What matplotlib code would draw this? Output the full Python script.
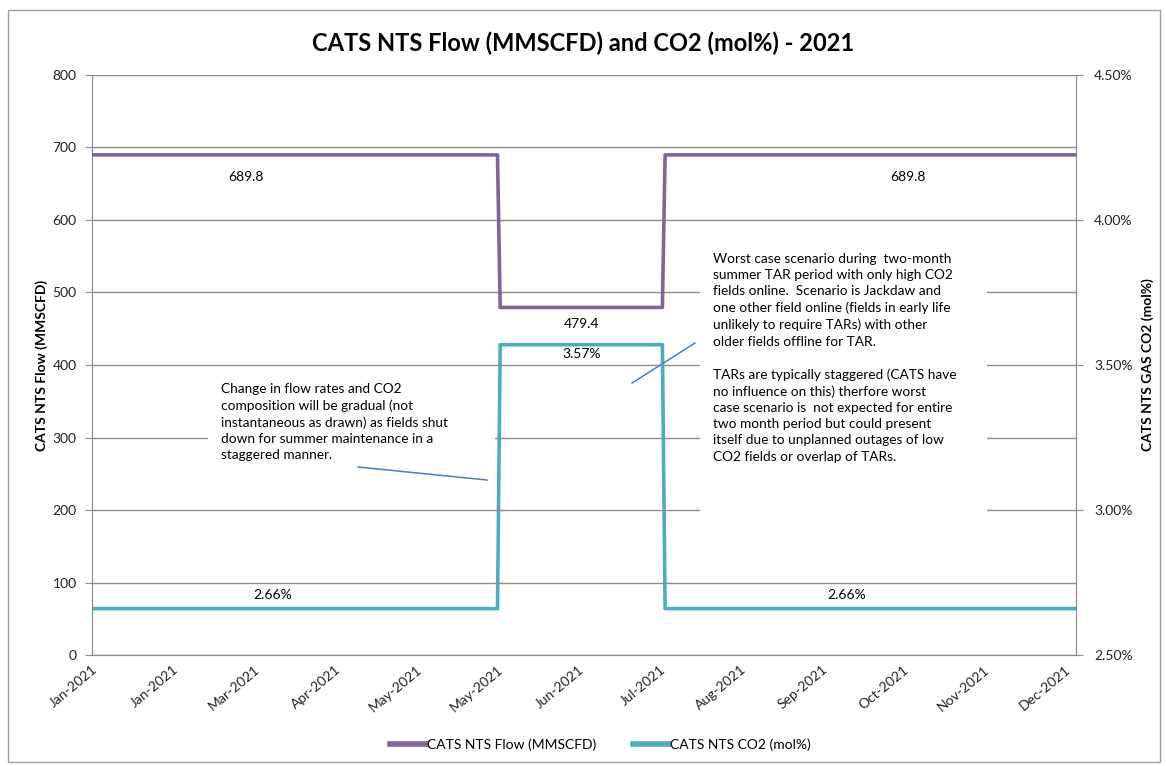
import numpy as np
import pandas as pd
import matplotlib
matplotlib.use('Agg')
from matplotlib import pyplot as plt
import matplotlib.dates as mdates
from matplotlib.ticker import FuncFormatter, MultipleLocator
from matplotlib.lines import Line2D
from matplotlib.patches import Rectangle

plt.rcParams['font.family'] = ['Lato', 'DejaVu Sans']

# data
dates = pd.to_datetime(['2021-01-01', '2021-05-31', '2021-06-01',
                        '2021-07-31', '2021-08-01', '2021-12-31'])
flow = [689.8, 689.8, 479.4, 479.4, 689.8, 689.8]
co2 = [2.66, 2.66, 3.57, 3.57, 2.66, 2.66]

tick_dates = pd.date_range('2021-01-01', periods=13, freq='30D')

# where the data labels sit
flow_label_dates = pd.to_datetime(['2021-02-27', '2021-07-01', '2021-10-30'])
flow_label_vals = [689.8, 479.4, 689.8]
co2_label_dates = pd.to_datetime(['2021-03-09', '2021-07-01', '2021-10-07'])
co2_label_vals = [2.66, 3.57, 2.66]

purple = '#8064A2'
teal = '#4BACC6'
grid_c = '#8c8c8c'

fig = plt.figure(figsize=(11.66, 7.66), dpi=100)
ax = fig.add_axes([0.0789, 0.1449, 0.9228 - 0.0789, 0.9021 - 0.1449])
ax2 = ax.twinx()
ax.set_zorder(3)
ax.patch.set_visible(False)

# outer chart border
fig.add_artist(Rectangle((8 / 1166, 4 / 766), 1152 / 1166, 752 / 766, transform=fig.transFigure,
                         fill=False, edgecolor='#a0a0a0', lw=1))

ax.plot(dates, flow, color=purple, lw=2.6, label='CATS NTS Flow (MMSCFD)', zorder=6)
ax2.plot(dates, co2, color=teal, lw=2.6, label='CATS NTS CO2 (mol%)', zorder=6)

ax.set_xlim(pd.Timestamp('2021-01-01'), pd.Timestamp('2021-12-31'))
ax.set_ylim(0, 800)
ax2.set_ylim(2.5, 4.5)
ax.yaxis.set_major_locator(MultipleLocator(100))
ax2.yaxis.set_major_locator(MultipleLocator(0.5))
ax2.yaxis.set_major_formatter(FuncFormatter(lambda v, p: f'{v:.2f}%'))

ax.set_xticks(tick_dates)
ax.xaxis.set_major_formatter(mdates.DateFormatter('%b-%Y'))
plt.setp(ax.get_xticklabels(), rotation=40, ha='right', rotation_mode='anchor')

ax.grid(axis='y', color=grid_c, lw=1)
ax.set_axisbelow(True)
for a in (ax, ax2):
    for s in a.spines.values():
        s.set_color(grid_c)
    a.spines['top'].set_visible(False)
ax.tick_params(axis='x', length=0, pad=6, labelsize=10, colors='#222222')
ax.tick_params(axis='y', length=5, color=grid_c, labelsize=10, labelcolor='#222222', pad=6)
ax2.tick_params(axis='y', length=5, color=grid_c, labelsize=10, labelcolor='#222222', pad=8)

ax.set_ylabel('CATS NTS Flow (MMSCFD)', fontsize=10, fontweight='bold', labelpad=3)
ax2.set_ylabel('CATS NTS GAS CO2 (mol%)', fontsize=10, fontweight='bold', labelpad=6)

fig.text(0.5, 0.943, 'CATS NTS Flow (MMSCFD) and CO2 (mol%) - 2021', ha='center', va='center',
         fontsize=17, fontweight='bold')

# data labels
for d, v in zip(flow_label_dates, flow_label_vals):
    ax.annotate(f'{v:.1f}', xy=(d, v), xytext=(0, -22 if v > 600 else -17), textcoords='offset pixels',
                ha='center', va='center', fontsize=10)
for d, v in zip(co2_label_dates, co2_label_vals):
    ax2.annotate(f'{v:.2f}%', xy=(d, v), xytext=(0, 14 if v < 3 else -9), textcoords='offset pixels',
                 ha='center', va='center', fontsize=10)

# notes
note1 = ('Change in flow rates and CO2\ncomposition will be gradual (not\n'
         'instantaneous as drawn) as fields shut\ndown for summer maintenance in a\nstaggered manner.')
note2 = ('Worst case scenario during  two-month\nsummer TAR period with only high CO2\n'
         'fields online.  Scenario is Jackdaw and\none other field online (fields in early life\n'
         'unlikely to require TARs) with other\nolder fields offline for TAR.\n\n'
         'TARs are typically staggered (CATS have\nno influence on this) therfore worst\n'
         'case scenario is  not expected for entire\ntwo month period but could present\n'
         'itself due to unplanned outages of low\nCO2 fields or overlap of TARs.')

# white note boxes hide the gridlines underneath
ax.add_patch(Rectangle((208 / 1166, 1 - 500 / 766), 287 / 1166, 128 / 766, transform=fig.transFigure,
                       facecolor='white', edgecolor='none', zorder=2))
ax.add_patch(Rectangle((700 / 1166, 1 - 520 / 766), 287 / 1166, 275 / 766, transform=fig.transFigure,
                       facecolor='white', edgecolor='none', zorder=2))
fig.text(221 / 1166, 1 - 383 / 766, note1, ha='left', va='top', fontsize=9.8, linespacing=1.42, zorder=4)
fig.text(713 / 1166, 1 - 253 / 766, note2, ha='left', va='top', fontsize=9.8, linespacing=1.42, zorder=4)

fig.add_artist(Line2D([358 / 1166, 487 / 1166], [1 - 467 / 766, 1 - 480 / 766], transform=fig.transFigure,
                      color='#4a7ebb', lw=1.1, zorder=5))
fig.add_artist(Line2D([695 / 1166, 632 / 1166], [1 - 343 / 766, 1 - 383 / 766], transform=fig.transFigure,
                      color='#4a7ebb', lw=1.1, zorder=5))

fig.legend(handles=[Line2D([], [], color=purple, lw=4), Line2D([], [], color=teal, lw=4)],
           labels=['CATS NTS Flow (MMSCFD)', 'CATS NTS CO2 (mol%)'],
           loc='center', bbox_to_anchor=(0.515, 1 - 745 / 766), ncol=2, frameon=False,
           fontsize=10, handlelength=2.6, handletextpad=0.1, columnspacing=2.6)

plt.savefig('out.png', dpi=100)
